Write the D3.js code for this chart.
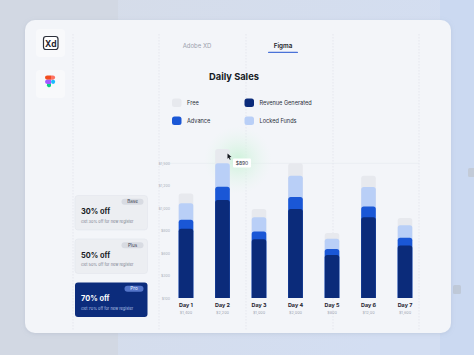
<!DOCTYPE html>
<html><head><meta charset="utf-8">
<script src="https://cdn.jsdelivr.net/npm/d3@7/dist/d3.min.js"></script>
<style>
html,body{margin:0;padding:0;background:#d9e1ef;}
svg{display:block;font-family:Inter,"Noto Sans",sans-serif;}
</style></head>
<body><svg id="c" width="474" height="355"></svg>
<script>
const days = ["Day 1","Day 2","Day 3","Day 4","Day 5","Day 6","Day 7"];
const dayTotals = ["$1,400","$2,200","$1,000","$2,000","$800","$12,00","$1,600"];
const revenue = [770,1090,655,990,480,900,585];
const advance = [100,150,85,135,65,120,85];
const locked = [185,260,160,235,115,215,140];
const free = [110,160,90,140,65,125,80];
const yTickLabels = ["$100","$300","$600","$800","$1,000","$1,200","$1,500"];
const seriesNames = ["Free","Revenue Generated","Advance","Locked Funds"];
const seriesColors = {"Free":"#e7e9ee","Revenue Generated":"#0b2b7a","Advance":"#1a57d6","Locked Funds":"#b9cff7"};
const offers = [
  {tag:"Base", pct:"30% off", sub:"Get 30% off for new register"},
  {tag:"Plus", pct:"50% off", sub:"Get 50% off for new register"},
  {tag:"Pro", pct:"70% off", sub:"Get 70% off for new register"}
];
const tabs = ["Adobe XD","Figma"];

const svg = d3.select("#c");
const defs = svg.append("defs");

// background
const bg = defs.append("linearGradient").attr("id","bg").attr("x1",0).attr("y1",0).attr("x2",1).attr("y2",0.3);
bg.append("stop").attr("offset","0").attr("stop-color","#d6dce7");
bg.append("stop").attr("offset","1").attr("stop-color","#d3def2");
svg.append("rect").attr("width",474).attr("height",355).attr("fill","url(#bg)");
svg.append("rect").attr("x",0).attr("y",0).attr("width",118).attr("height",355).attr("fill","#d2d8e3");
svg.append("rect").attr("x",440).attr("y",0).attr("width",34).attr("height",355).attr("fill","#cbd9f1");
svg.append("rect").attr("x",468).attr("y",168).attr("width",8).attr("height",9).attr("rx",1.5).attr("fill","#c3cbd8");
svg.append("rect").attr("x",453).attr("y",285).attr("width",8).attr("height",9).attr("rx",1.5).attr("fill","#bfc9d8");

// card
const sh = defs.append("filter").attr("id","sh").attr("x","-10%").attr("y","-10%").attr("width","120%").attr("height","120%");
sh.append("feDropShadow").attr("dx",0).attr("dy",1).attr("stdDeviation",2).attr("flood-color","#8894aa").attr("flood-opacity",0.25);
svg.append("rect").attr("x",25).attr("y",20).attr("width",426).attr("height",313).attr("rx",10).attr("fill","#f3f5f9").attr("filter","url(#sh)");

// dashed vertical guides
[73,159,246,333,419].forEach(x=>{
  svg.append("line").attr("x1",x).attr("x2",x).attr("y1",34).attr("y2",330)
    .attr("stroke","#dfe3ea").attr("stroke-width",0.7).attr("stroke-dasharray","1.5,1.5");
});
svg.append("line").attr("x1",159).attr("x2",419).attr("y1",163.3).attr("y2",163.3)
  .attr("stroke","#e3e7ee").attr("stroke-width",0.6);

// glow
const gl = defs.append("radialGradient").attr("id","glow");
gl.append("stop").attr("offset","0").attr("stop-color","#c9f2d6").attr("stop-opacity",0.9);
gl.append("stop").attr("offset","1").attr("stop-color","#e6f6ee").attr("stop-opacity",0);
svg.append("circle").attr("cx",238).attr("cy",160).attr("r",34).attr("fill","url(#glow)");

// sidebar icons
svg.append("rect").attr("x",36).attr("y",29).attr("width",29).attr("height",28).attr("rx",4).attr("fill","#f8f9fb");
svg.append("rect").attr("x",43.5).attr("y",36.5).attr("width",14.5).attr("height",13).attr("rx",2.5).attr("fill","#fff").attr("stroke","#2b2f3a").attr("stroke-width",1.2);
svg.append("text").attr("x",50.8).attr("y",46.5).attr("text-anchor","middle").attr("font-size",8.5).attr("font-weight",700).attr("fill","#1f2430").text("Xd");
svg.append("rect").attr("x",36).attr("y",70).attr("width",29).attr("height",28).attr("rx",4).attr("fill","#f8f9fb");
const fg = svg.append("g").attr("transform","translate(45,75.5)");
fg.append("path").attr("d","M4.2,0 H6 V4.2 H2.1 A2.1,2.1 0 0 1 2.1,0 Z").attr("fill","#f24e1e");
fg.append("path").attr("d","M6,0 H8 A2.1,2.1 0 0 1 8,4.2 H6 Z").attr("fill","#ff7262");
fg.append("path").attr("d","M2.1,4.2 H6 V8.4 H2.1 A2.1,2.1 0 0 1 2.1,4.2 Z").attr("fill","#a259ff");
fg.append("circle").attr("cx",8.1).attr("cy",6.3).attr("r",2.1).attr("fill","#1abcfe");
fg.append("path").attr("d","M2.1,8.4 H6 V10.5 A2.1,2.1 0 1 1 2.1,8.4 Z").attr("fill","#0acf83");

// tabs
svg.append("text").attr("x",197).attr("y",48).attr("text-anchor","middle").attr("font-size",6).attr("fill","#9ba1ad").text(tabs[0]);
svg.append("text").attr("x",283).attr("y",48).attr("text-anchor","middle").attr("font-size",6.3).attr("font-weight",600).attr("fill","#1b1f2a").text(tabs[1]);
svg.append("rect").attr("x",268).attr("y",51.8).attr("width",30).attr("height",1.2).attr("rx",0.6).attr("fill","#4a72d8");

// title
svg.append("text").attr("x",234).attr("y",80).attr("text-anchor","middle").attr("font-size",9.3).attr("font-weight",700).attr("fill","#161a24").text("Daily Sales");

// legend
const legPos = [[172,98.5],[244.5,98.5],[172,116.5],[244.5,116.5]];
seriesNames.forEach((n,i)=>{
  const [lx,ly]=legPos[i];
  svg.append("rect").attr("x",lx).attr("y",ly).attr("width",9.5).attr("height",8.5).attr("rx",2.5).attr("fill",seriesColors[n]);
  svg.append("text").attr("x",lx+15).attr("y",ly+6.3).attr("font-size",5.6).attr("fill","#2a2f3a").text(n);
});

// scales
const x = d3.scaleBand().domain(days).range([167.75,423.25]).paddingInner(0.6).paddingOuter(0.3);
const y = d3.scaleLinear().domain([0,1500]).range([298,163.3]);
const yt = d3.scalePoint().domain(yTickLabels).range([298,163.3]);

// y tick labels
const ya = d3.axisLeft(yt).tickSize(0).tickPadding(0);
const yg = svg.append("g").attr("transform","translate(170,0)").call(ya);
yg.select(".domain").remove();
yg.selectAll("text").attr("font-size",3.6).attr("fill","#aab0bb").attr("font-family","Inter,sans-serif");

// stacked bars
const data = days.map((d,i)=>({day:d, "Revenue Generated":revenue[i], "Advance":advance[i], "Locked Funds":locked[i], "Free":free[i]}));
const order = ["Revenue Generated","Advance","Locked Funds","Free"];
const stack = d3.stack().keys(order)(data);
function topRounded(x0,w,yTop,yBot,r){
  r=Math.min(r,(yBot-yTop)/2,w/2);
  return `M${x0},${yBot} V${yTop+r} Q${x0},${yTop} ${x0+r},${yTop} H${x0+w-r} Q${x0+w},${yTop} ${x0+w},${yTop+r} V${yBot} Z`;
}
const bw = x.bandwidth();
[...stack].reverse().forEach(layer=>{
  svg.append("g").selectAll("path").data(layer).join("path")
    .attr("d",d=>topRounded(x(d.data.day),bw,y(d[1]),y(0),2.5))
    .attr("fill",seriesColors[layer.key]);
});

// x labels
const xa = d3.axisBottom(x).tickSize(0).tickPadding(0);
const xg = svg.append("g").attr("transform","translate(0,303)").call(xa);
xg.select(".domain").remove();
xg.selectAll("text").attr("font-size",5.4).attr("font-weight",700).attr("fill","#1e2330").attr("font-family","Inter,sans-serif");
svg.append("g").selectAll("text").data(days).join("text")
  .attr("x",d=>x(d)+bw/2).attr("y",314).attr("text-anchor","middle")
  .attr("font-size",3.8).attr("fill","#a3a9b4").text((d,i)=>dayTotals[i]);

// tooltip
svg.append("rect").attr("x",233).attr("y",158.5).attr("width",18).attr("height",9).attr("rx",1).attr("fill","#ffffff");
svg.append("text").attr("x",242).attr("y",165).attr("text-anchor","middle").attr("font-size",5).attr("fill","#2a2f3a").text("$890");
svg.append("path").attr("d","M227.5,153.5 L231.5,157 L229.6,157.3 L230.7,159.4 L229.8,159.8 L228.8,157.8 L227.5,158.8 Z").attr("fill","#15181f");

// offer cards
const cardY = [195.5,239,282.5];
offers.forEach((o,i)=>{
  const pro = i===2;
  const g = svg.append("g").attr("transform",`translate(75,${cardY[i]})`);
  g.append("rect").attr("width",72.5).attr("height",34.5).attr("rx",3)
    .attr("fill",pro?"#0c2c7c":"#eceef2").attr("stroke",pro?"none":"#e3e6ec").attr("stroke-width",0.6);
  const tw = o.tag==="Pro"?19:22;
  g.append("rect").attr("x",68.5-tw).attr("y",3.3).attr("width",tw).attr("height",6).attr("rx",3)
    .attr("fill",pro?"#5475c9":"#d8dbe2");
  g.append("text").attr("x",68.5-tw/2).attr("y",7.9).attr("text-anchor","middle").attr("font-size",4.6)
    .attr("fill",pro?"#e8eefc":"#3c4250").text(o.tag);
  g.append("text").attr("x",6).attr("y",18.8).attr("font-size",7.4).attr("font-weight",700)
    .attr("fill",pro?"#ffffff":"#161a24").text(o.pct);
  g.append("text").attr("x",6).attr("y",27).attr("font-size",3.9)
    .attr("fill",pro?"#b8c6ea":"#7c8290").text(o.sub);
});
</script></body></html>
